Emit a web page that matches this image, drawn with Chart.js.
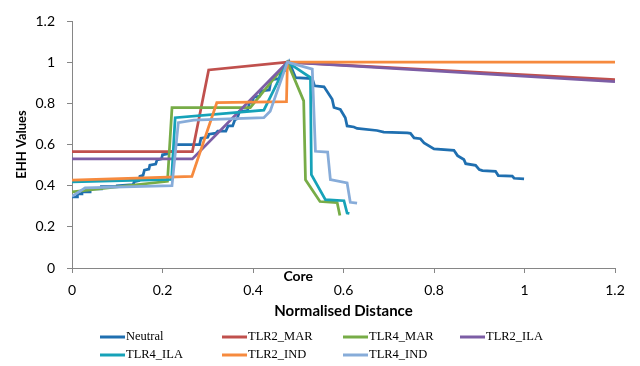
<!DOCTYPE html>
<html>
<head>
<meta charset="utf-8">
<script src="https://cdn.jsdelivr.net/npm/chart.js@4/dist/chart.umd.min.js"></script>
<style>
html,body{margin:0;padding:0;background:#fff;}
#wrap{position:relative;width:640px;height:366px;}
</style>
</head>
<body>
<div id="wrap"><canvas id="c" width="640" height="366"></canvas></div>
<script>
// ---- data ----
const seriesNames = ['Neutral','TLR2_MAR','TLR4_MAR','TLR2_ILA','TLR4_ILA','TLR2_IND','TLR4_IND'];
const xTicks = [0,0.2,0.4,0.6,0.8,1,1.2];
const yTicks = [0,0.2,0.4,0.6,0.8,1,1.2];
const xTitle = 'Normalised Distance';
const yTitle = 'EHH Values';
const coreText = 'Core';
const coreX = 0.5;

const neutralX = [0,0.012,0.012,0.022,0.022,0.04,0.04,0.065,0.065,0.10,0.10,0.135,0.138,0.148,0.15,0.157,0.16,0.17,0.172,0.185,0.188,0.198,0.20,0.212,0.215,0.225,0.228,0.282,0.285,0.30,0.303,0.318,0.322,0.34,0.345,0.355,0.36,0.365,0.37,0.388,0.392,0.398,0.402,0.415,0.418,0.436,0.44,0.458,0.462,0.474,0.48,0.494,0.531,0.536,0.557,0.575,0.579,0.593,0.604,0.608,0.623,0.63,0.674,0.689,0.741,0.748,0.756,0.77,0.778,0.80,0.844,0.852,0.866,0.870,0.892,0.900,0.907,0.936,0.942,0.973,0.977,0.999];
const neutralY = [0.345,0.345,0.36,0.36,0.37,0.37,0.385,0.385,0.395,0.395,0.40,0.405,0.42,0.425,0.445,0.45,0.475,0.48,0.50,0.505,0.525,0.53,0.55,0.555,0.565,0.565,0.60,0.60,0.63,0.635,0.65,0.655,0.665,0.665,0.69,0.69,0.72,0.725,0.76,0.765,0.80,0.805,0.83,0.835,0.86,0.865,0.915,0.92,0.955,0.962,1.0,0.925,0.92,0.885,0.88,0.82,0.78,0.77,0.73,0.69,0.685,0.678,0.668,0.66,0.656,0.654,0.632,0.628,0.608,0.579,0.572,0.546,0.527,0.507,0.499,0.478,0.473,0.47,0.449,0.446,0.436,0.433];

const tlr2MarX = [0,0.266,0.302,0.476,1.2];
const tlr2MarY = [0.565,0.565,0.962,1.0,0.915];

const tlr4MarX = [0,0.211,0.221,0.394,0.476,0.512,0.516,0.548,0.586,0.592];
const tlr4MarY = [0.37,0.421,0.779,0.779,1.0,0.812,0.429,0.323,0.318,0.255];

const tlr2IlaX = [0,0.266,0.476,1.2];
const tlr2IlaY = [0.53,0.53,1.0,0.905];

const tlr4IlaX = [0,0.220,0.228,0.424,0.445,0.476,0.527,0.529,0.560,0.601,0.608,0.613];
const tlr4IlaY = [0.418,0.43,0.730,0.767,0.86,1.0,0.925,0.454,0.332,0.327,0.267,0.265];

const tlr2IndX = [0,0.265,0.320,0.474,0.476,1.2];
const tlr2IndY = [0.427,0.445,0.803,0.808,1.0,1.0];

const tlr4IndX = [0,0.029,0.221,0.235,0.269,0.424,0.438,0.476,0.531,0.538,0.565,0.571,0.608,0.615,0.630];
const tlr4IndY = [0.348,0.389,0.400,0.706,0.718,0.730,0.762,1.0,0.966,0.567,0.563,0.429,0.413,0.319,0.315];

const allX = [neutralX,tlr2MarX,tlr4MarX,tlr2IlaX,tlr4IlaX,tlr2IndX,tlr4IndX];
const allY = [neutralY,tlr2MarY,tlr4MarY,tlr2IlaY,tlr4IlaY,tlr2IndY,tlr4IndY];
const colors = ['#1f6fb0','#c0504d','#77ac47','#7c5da5','#16a2b8','#f68a3e','#87acd9'];

// ---- chart ----
const datasets = seriesNames.map((name,i)=>({
  label:name,
  data: allX[i].map((x,j)=>({x:x,y:allY[i][j]})),
  borderColor: colors[i],
  backgroundColor: colors[i],
  borderWidth: 2.75,
  pointRadius: 0,
  tension: 0,
  fill: false,
  order: seriesNames.length - i
}));

const tickFont = {family:'Lato, "Open Sans", sans-serif', size:14};

const extras = {
  id:'extras',
  afterDraw(chart){
    const ctx = chart.ctx;
    const xs = chart.scales.x;
    const ca = chart.chartArea;
    ctx.save();
    ctx.fillStyle = '#000';
    ctx.textAlign = 'center';
    ctx.textBaseline = 'middle';
    ctx.font = 'bold 14px Lato, "Open Sans", sans-serif';
    ctx.fillText(coreText, xs.getPixelForValue(coreX), ca.bottom + 8);
    ctx.font = 'bold 15px Lato, "Open Sans", sans-serif';
    ctx.fillText(xTitle, (ca.left+ca.right)/2, 311);
    ctx.save();
    ctx.translate(22,(ca.top+ca.bottom)/2);
    ctx.rotate(-Math.PI/2);
    ctx.font = 'bold 13px Lato, "Open Sans", sans-serif';
    ctx.fillText(yTitle,0,0);
    ctx.restore();
    ctx.font = '12.5px "Liberation Serif", serif';
    ctx.textAlign = 'left';
    const colX = [100,222,343,460];
    const rowY = [337,355];
    chart.data.datasets.forEach((d,i)=>{
      const r = Math.floor(i/4), c = i%4;
      const lx = colX[c], ly = rowY[r];
      ctx.strokeStyle = d.borderColor;
      ctx.lineWidth = 3;
      ctx.beginPath();
      ctx.moveTo(lx,ly); ctx.lineTo(lx+25,ly);
      ctx.stroke();
      ctx.fillStyle = '#000';
      ctx.fillText(d.label, lx+26, ly);
    });
    ctx.restore();
  }
};

new Chart(document.getElementById('c'),{
  type:'line',
  data:{datasets:datasets},
  plugins:[extras],
  options:{
    responsive:false,
    animation:false,
    layout:{padding:{top:21,right:25,bottom:0,left:0}},
    plugins:{legend:{display:false},tooltip:{enabled:false}},
    scales:{
      x:{
        type:'linear',
        min:0,max:1.2,
        afterBuildTicks(s){ s.ticks = xTicks.map(v=>({value:v})); },
        afterFit(s){ s.height = 98; },
        grid:{drawOnChartArea:false,drawTicks:true,tickLength:5,color:'#868686'},
        border:{color:'#868686',width:1},
        ticks:{font:tickFont,color:'#000',padding:9,maxRotation:0,callback:v=>String(v)}
      },
      y:{
        type:'linear',
        min:0,max:1.2,
        afterBuildTicks(s){ s.ticks = yTicks.map(v=>({value:v})); },
        afterFit(s){ s.width = 72; },
        grid:{drawOnChartArea:false,drawTicks:true,tickLength:5,color:'#868686'},
        border:{color:'#868686',width:1},
        ticks:{font:tickFont,color:'#000',padding:12,callback:v=>String(v)}
      }
    }
  }
});
</script>
</body>
</html>
